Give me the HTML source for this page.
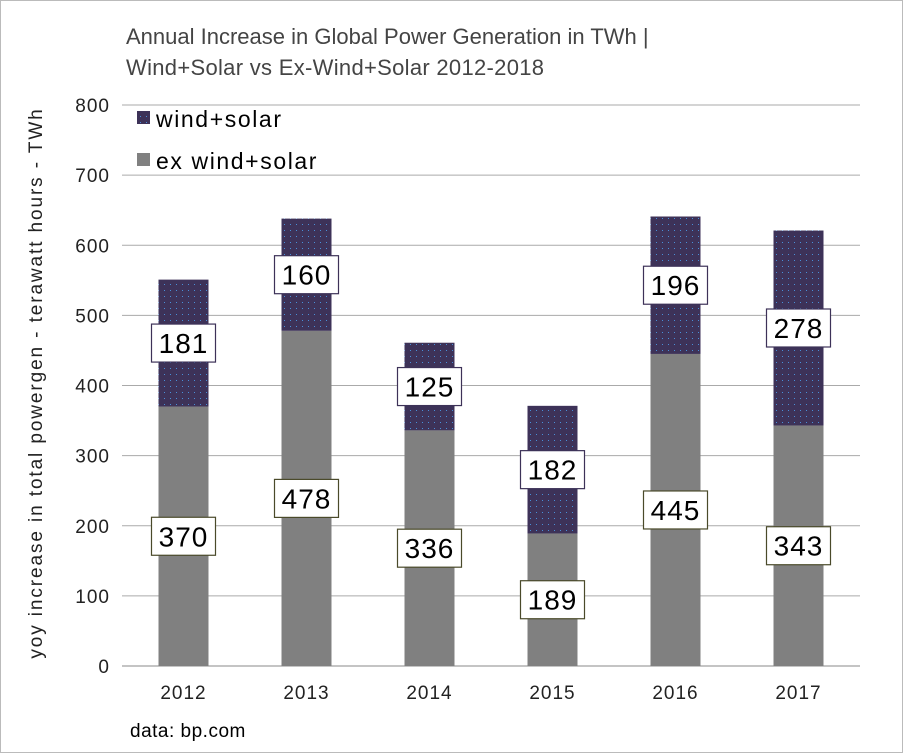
<!DOCTYPE html>
<html><head><meta charset="utf-8">
<style>
html,body{margin:0;padding:0;background:#fff;}
svg{display:block;font-family:"Liberation Sans",sans-serif;}
</style></head>
<body>
<svg id="chart" width="903" height="753" viewBox="0 0 903 753">
<defs>
<pattern id="dots" width="6" height="6" patternUnits="userSpaceOnUse">
<rect width="6" height="6" fill="#3d3258"/>
<rect x="2" y="2" width="1" height="1" fill="#4a8fd8"/>
</pattern>
</defs>
<rect x="0.5" y="0.5" width="902" height="752" fill="#fff" stroke="#bbb"/>
<text x="126" y="44" font-size="22" fill="#444">Annual Increase in Global Power Generation in TWh |</text>
<text x="126" y="75" font-size="22" fill="#444" letter-spacing="0.3">Wind+Solar vs Ex-Wind+Solar 2012-2018</text>
<g id="grid"></g>
<g id="bars"></g>
<g id="labels"></g>
<g id="axes"></g>
<text transform="translate(42,383) rotate(-90)" text-anchor="middle" font-size="19" letter-spacing="1.9" fill="#222">yoy increase in total powergen - terawatt hours  - TWh</text>
<g>
<g>
<rect x="137" y="111" width="13" height="13" fill="url(#dots)"/>
<text x="156" y="127" font-size="23" letter-spacing="1.6" fill="#000">wind+solar</text>
</g>
<g>
<rect x="137" y="153" width="13" height="13" fill="#808080"/>
<text x="156" y="169" font-size="23" letter-spacing="1.6" fill="#000">ex wind+solar</text>
</g>
</g>
<text x="130" y="737" font-size="19" letter-spacing="0.5" fill="#000">data: bp.com</text>
</svg>
<script>
const categories = ["2012","2013","2014","2015","2016","2017"];
const exWindSolar = [370,478,336,189,445,343];
const windSolar = [181,160,125,182,196,278];
const yTicks = [0,100,200,300,400,500,600,700,800];

const NS="http://www.w3.org/2000/svg";
const X0=122,X1=860,Y0=666,Y1=105,YMAX=800;
const bandW=(X1-X0)/categories.length, barW=50;
function y(v){return Y0-(v/YMAX)*(Y0-Y1);}
function xc(i){return X0+bandW*(i+0.5);}
function mk(tag,attrs,parent){const e=document.createElementNS(NS,tag);for(const k in attrs)e.setAttribute(k,attrs[k]);parent.appendChild(e);return e;}
const grid=document.getElementById('grid'),bars=document.getElementById('bars'),labels=document.getElementById('labels'),axes=document.getElementById('axes');
yTicks.forEach(t=>{
  const l=mk('line',{x1:X0,x2:X1,y1:y(t),y2:y(t),stroke:t===0?'#888':'#aaa','stroke-width':1},grid);
  
  
  const tx=mk('text',{x:X0-12,y:y(t)+7,'text-anchor':'end','font-size':19,'letter-spacing':1,fill:'#222'},axes);
  tx.textContent=t;
  
  
});
function label(val,cx,cy,border,name){
  const g=mk('g',{},labels);
  
  
  mk('rect',{x:cx-32,y:cy-19,width:64,height:38,fill:'#fff',stroke:border,'stroke-width':1.2},g);
  const t=mk('text',{x:cx,y:cy+10,'text-anchor':'middle','font-size':28,'letter-spacing':1,fill:'#000'},g);
  t.textContent=val;
}
categories.forEach((c,i)=>{
  const cx=xc(i), e=exWindSolar[i], w=windSolar[i];
  const r1=mk('rect',{x:cx-barW/2,y:y(e),width:barW,height:y(0)-y(e),fill:'#808080'},bars);
  
  
  const r2=mk('rect',{x:cx-barW/2,y:y(e+w),width:barW,height:y(e)-y(e+w),fill:'url(#dots)'},bars);
  
  
  label(e,cx,y(e/2),'#4a4a2a','label-ex-'+c);
  label(w,cx,y(e+w/2),'#3d3258','label-wind-'+c);
  const tx=mk('text',{x:cx,y:699,'text-anchor':'middle','font-size':19,'letter-spacing':1,fill:'#222'},axes);
  tx.textContent=c;
  
  
});
</script>
</body></html>
